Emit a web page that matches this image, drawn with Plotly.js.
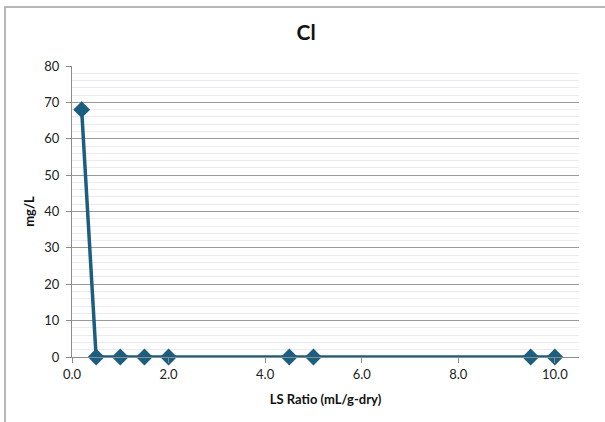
<!DOCTYPE html>
<html><head><meta charset="utf-8">
<script src="https://cdn.plot.ly/plotly-3.0.1.min.js"></script>
<style>html,body{margin:0;padding:0;background:#fff;}#c{width:605px;height:422px;}</style>
</head><body><div id="c"></div>
<script>
const lsRatio = [0.2, 0.5, 1.0, 1.5, 2.0, 4.5, 5.0, 9.5, 10.0];
const clMgL = [68, 0, 0, 0, 0, 0, 0, 0, 0];
const chartTitle = 'Cl';
const xTitle = 'LS Ratio (mL/g-dry)';
const yTitle = 'mg/L';

const L = 72, R = 579, T = 66, B = 357, W = 605, H = 422;
const px = v => (v - L) / (R - L);
const py = v => (B - v) / (B - T);

const font = 'Lato, "Open Sans", sans-serif';
Plotly.newPlot('c', [{
  x: lsRatio, y: clMgL, type: 'scatter', mode: 'lines+markers',
  line: {color: '#1b5e80', width: 3.5},
  marker: {symbol: 'diamond', size: 13, color: '#1b5e80'},
  cliponaxis: false
}], {
  width: W, height: H,
  margin: {l: L, r: W - R, t: T, b: H - B},
  paper_bgcolor: '#fff', plot_bgcolor: '#fff',
  showlegend: false,
  font: {family: font, size: 13, color: '#222'},
  title: {text: '<b>' + chartTitle + '</b>', x: 0.506, xanchor: 'center', y: 1 - 33 / H, yanchor: 'middle', font: {size: 21, family: font, color: '#111'}},
  xaxis: {
    range: [0, 10.5], tickvals: [0, 2, 4, 6, 8, 10], tickformat: '.1f',
    showgrid: false, zeroline: false, showline: true, linecolor: '#8c8c8c', linewidth: 1,
    ticks: 'outside', ticklen: 5, tickcolor: '#8c8c8c',
    tickfont: {size: 13, family: font, color: '#222'},
    title: {text: '<b>' + xTitle + '</b>', standoff: 14, font: {size: 13, family: font, color: '#111'}}
  },
  yaxis: {
    range: [0, 80], dtick: 10, tickformat: 'd',
    showgrid: true, gridcolor: '#9a9a9a', gridwidth: 1,
    minor: {dtick: 2, showgrid: true, gridcolor: '#eaeaf0', gridwidth: 1},
    zeroline: false, showline: true, linecolor: '#8c8c8c', linewidth: 1,
    ticks: 'outside', ticklen: 5, tickcolor: '#8c8c8c',
    ticklabelstandoff: 4,
    tickfont: {size: 13, family: font, color: '#222'},
    title: {text: '<b>' + yTitle + '</b>', standoff: 6, font: {size: 13, family: font, color: '#111'}}
  },
  shapes: [{type: 'rect', xref: 'paper', yref: 'paper',
    x0: px(5), x1: px(W + 5), y0: py(H + 5), y1: py(7),
    line: {color: '#a0a0a0', width: 1.5}, fillcolor: 'rgba(0,0,0,0)', layer: 'below'}]
}, {displayModeBar: false, staticPlot: true});
</script></body></html>
